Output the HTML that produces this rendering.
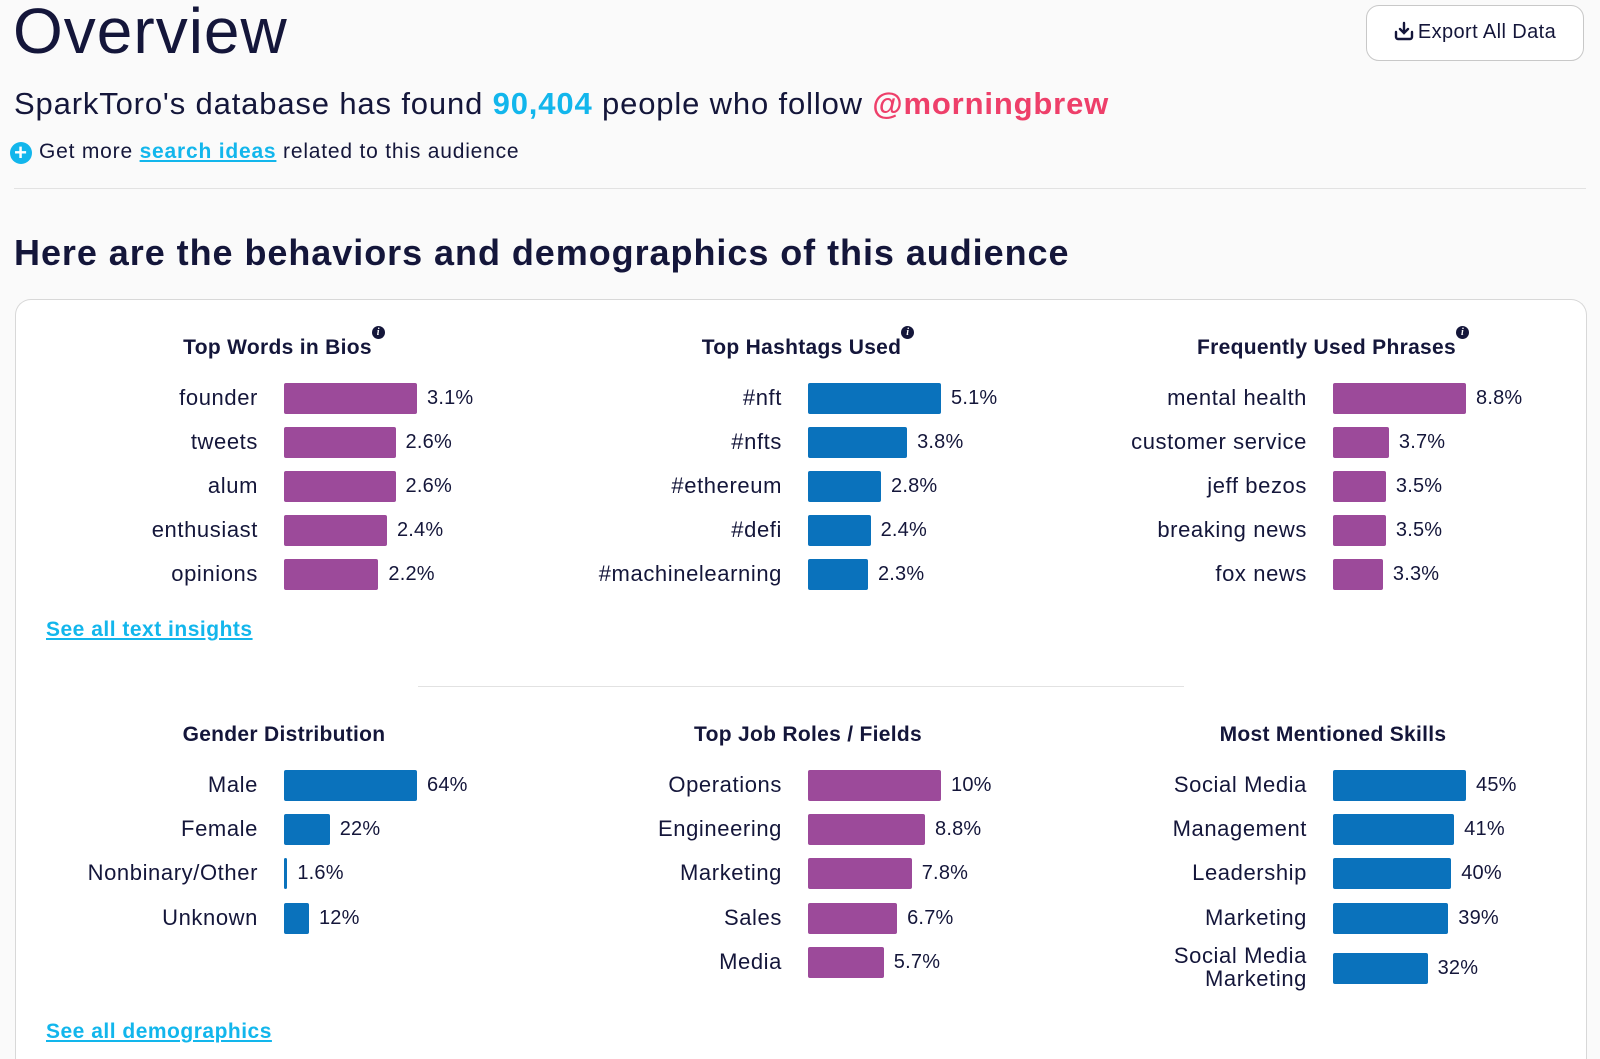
<!DOCTYPE html>
<html style="overflow:hidden;height:1059px"><head><meta charset="utf-8">
<style>
body{margin:0;width:1600px;height:1059px;overflow:hidden;background:#fafafa;font-family:"Liberation Sans",sans-serif;color:#14163a;position:relative}
.a{position:absolute;white-space:nowrap}
.lbl{position:absolute;text-align:right;font-size:22px;line-height:24px;letter-spacing:0.6px}
.val{position:absolute;font-size:20px;line-height:24px;letter-spacing:0.2px}
.bar{position:absolute;height:31px;border-radius:2px}
.ptitle{position:absolute;font-size:21px;font-weight:bold;text-align:center;width:400px;letter-spacing:0.3px}
.info{display:inline-block;width:13px;height:13px;border-radius:50%;background:#14163a;color:#fff;font-size:10px;line-height:13px;text-align:center;font-weight:bold;font-style:italic;vertical-align:top;position:relative;top:-10px;font-family:"Liberation Serif",serif}
.link{color:#12b6ec;text-decoration:underline;font-weight:bold}
</style></head><body>
<div class="a" style="left:13px;top:-6px;font-size:64px;letter-spacing:1px">Overview</div>
<div class="a" style="left:1366px;top:5px;width:218px;height:56px;border:1.5px solid #c8c8c8;border-radius:13px;background:#fff;box-sizing:border-box;font-size:20px;line-height:53px;text-align:center;letter-spacing:0.4px">
<svg width="20" height="20" viewBox="0 0 20 20" style="vertical-align:-3px;margin-right:4px"><path d="M10 2v10M6 8l4 4 4-4M2 11v5a2 2 0 0 0 2 2h12a2 2 0 0 0 2-2v-5" fill="none" stroke="#14163a" stroke-width="2.4" stroke-linecap="round"/></svg>Export All Data</div>
<div class="a" style="left:14px;top:86px;font-size:31px;letter-spacing:0.85px">SparkToro's database has found <b style="color:#12b6ec">90,404</b> people who follow <b style="color:#ee3f6a">@morningbrew</b></div>
<div class="a" style="left:10px;top:140px;font-size:21px;letter-spacing:0.8px"><span style="display:inline-block;width:22px;height:22px;border-radius:50%;background:#12b6ec;color:#fff;text-align:center;line-height:22px;font-weight:bold;font-size:22px;vertical-align:-2px;margin-right:7px">+</span>Get more <span class="link">search ideas</span> related to this audience</div>
<div class="a" style="left:14px;top:188px;width:1572px;height:1px;background:#e2e2e2"></div>
<div class="a" style="left:14px;top:232px;font-size:36px;font-weight:bold;letter-spacing:0.95px">Here are the behaviors and demographics of this audience</div>
<div class="a" id="card" style="left:15px;top:299px;width:1572px;height:760px;background:#fff;border:1.5px solid #d8d8d8;border-bottom:none;border-radius:16px 16px 0 0;box-sizing:border-box"></div>
<div class="a" style="left:46px;top:618px;font-size:21px;letter-spacing:0.5px"><span class="link">See all text insights</span></div>
<div class="a" style="left:418px;top:686px;width:766px;height:1px;background:#e2e2e2"></div>
<div class="a" style="left:46px;top:1020px;font-size:21px;letter-spacing:0.5px"><span class="link">See all demographics</span></div>
<div id="charts"></div>
<script>
const biosCats=["founder","tweets","alum","enthusiast","opinions"];
const biosVals=[3.1,2.6,2.6,2.4,2.2];
const tagCats=["#nft","#nfts","#ethereum","#defi","#machinelearning"];
const tagVals=[5.1,3.8,2.8,2.4,2.3];
const phraseCats=["mental health","customer service","jeff bezos","breaking news","fox news"];
const phraseVals=[8.8,3.7,3.5,3.5,3.3];
const genderCats=["Male","Female","Nonbinary/Other","Unknown"];
const genderVals=[64,22,1.6,12];
const jobCats=["Operations","Engineering","Marketing","Sales","Media"];
const jobVals=[10,8.8,7.8,6.7,5.7];
const skillCats=["Social Media","Management","Leadership","Marketing","Social Media<br>Marketing"];
const skillVals=[45,41,40,39,32];
const PURPLE="#9c4a9a",BLUE="#0a72bc";
const root=document.getElementById('charts');
function panel(name,title,info,cats,vals,unitFmt,x0,titleY,rowY,color){
  const t=document.createElement('div');
  t.className='ptitle';
  
  
  t.style.left=(x0-200)+'px';t.style.top=(titleY)+'px';
  t.innerHTML=title+(info?'<span class="info">i</span>':'');
  root.appendChild(t);
  const maxV=Math.max(...vals);
  const xs=v=>v/maxV*133;
  cats.forEach((c,i)=>{
    let y=rowY[i];
    if(c.indexOf('<br>')>=0) y+=6;
    const l=document.createElement('div');
    l.className='lbl';
    
    
    l.style.right=(1600-(x0-26))+'px';
    const two=c.indexOf('<br>')>=0;
    l.style.top=(two? y-24 : y-12)+'px';
    if(two) l.style.lineHeight='23px';
    l.innerHTML=c;
    root.appendChild(l);
    const w=Math.max(xs(vals[i]),2);
    const b=document.createElement('div');
    b.className='bar';
    
    
    b.style.left=x0+'px';b.style.top=(y-15)+'px';b.style.width=w+'px';b.style.background=color;
    root.appendChild(b);
    const v=document.createElement('div');
    v.className='val';
    
    
    v.style.left=(x0+w+10)+'px';v.style.top=(y-12)+'px';
    v.textContent=unitFmt(vals[i]);
    root.appendChild(v);
  });
}
const pct=v=>v+'%';
const r1=[398,442,486,530,574],r2=[785,829,873,918,962];
const c1=284,c2=808,c3=1333;
panel('bios','Top Words in Bios',true,biosCats,biosVals,pct,c1,336,r1,PURPLE);
panel('hashtags','Top Hashtags Used',true,tagCats,tagVals,pct,c2,336,r1,BLUE);
panel('phrases','Frequently Used Phrases',true,phraseCats,phraseVals,pct,c3,336,r1,PURPLE);
panel('gender','Gender Distribution',false,genderCats,genderVals,pct,c1,723,r2,BLUE);
panel('jobs','Top Job Roles / Fields',false,jobCats,jobVals,pct,c2,723,r2,PURPLE);
panel('skills','Most Mentioned Skills',false,skillCats,skillVals,pct,c3,723,r2,BLUE);
</script>
</body></html>
